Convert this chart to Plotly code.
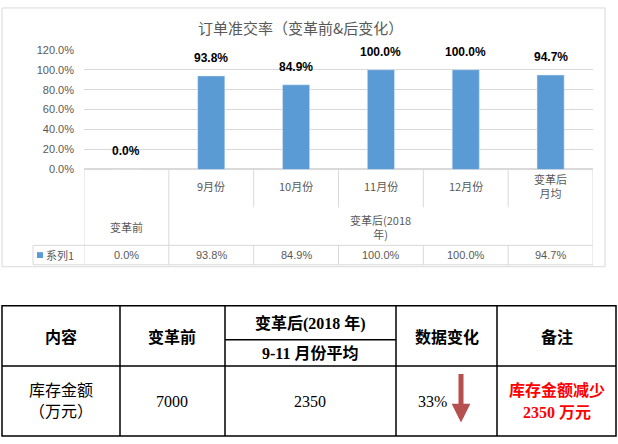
import plotly.graph_objects as go

W, H = 618, 444

# chart data
title = "订单准交率（变革前&后变化）"
categories = ["变革前", "9月份", "10月份", "11月份", "12月份", "变革后<br>月均"]
values = [0.0, 0.938, 0.849, 1.0, 1.0, 0.947]
groups = ["变革前", "变革后(2018<br>年)"]
series_name = "系列1"

# table data
tbl_head = ["内容", "变革前", "变革后(2018 年)", "9-11 月份平均", "数据变化", "备注"]
tbl_item = ["库存金额", "（万元）"]
before = 7000
after = 2350
change = "33%"
note = ["库存金额减少", "2350 万元"]

BLUE = "#5b9bd5"
GRID = "#d9d9d9"
GREY = "#595959"
CJK = "Noto Sans CJK SC"
SERIF = "Liberation Serif, Noto Sans CJK SC"


def fx(p):
    return p / W


def fy(p):
    return 1 - p / H


def txt(x, y, text, font, xref="paper", yref="paper", **kw):
    d = dict(x=x, y=y, xref=xref, yref=yref, text=text, showarrow=False,
             xanchor="center", yanchor="middle", font=font)
    d.update(kw)
    return d


fig = go.Figure()
fig.add_trace(go.Bar(x=list(range(len(values))), y=values, width=0.32,
                     marker_color=BLUE, name=series_name, hoverinfo="skip"))

ann = []
shapes = []

# labels above the bars
lab_font = dict(family="Liberation Sans", size=12, color="#000")
for i, v in enumerate(values):
    ann.append(txt(i, v, "<b>%.1f%%</b>" % (v * 100), lab_font, xref="x", yref="y",
                   yanchor="bottom", yshift=9))

ann.append(txt(fx(300), fy(22), title, dict(family=CJK, size=15, color=GREY)))

# category row
cat_font = dict(family=CJK, size=11, color=GREY)
for i, c in enumerate(categories):
    if i > 0:
        ann.append(txt(i, fy(185), c, cat_font, xref="x"))
ann.append(txt(0, fy(227), groups[0], cat_font, xref="x"))
ann.append(txt(3, fy(227), groups[1], cat_font, xref="x"))

# data table row
for i, v in enumerate(values):
    ann.append(txt(i, fy(256), "%.1f%%" % (v * 100),
                   dict(family="Liberation Sans", size=11, color=GREY), xref="x"))
ann.append(txt(fx(44), fy(256), series_name, cat_font, xanchor="left"))
shapes.append(dict(type="rect", xref="paper", yref="paper", x0=fx(37), x1=fx(43),
                   y0=fy(259), y1=fy(253), fillcolor=BLUE, line_width=0))

# category area lines
gl = dict(color=GRID, width=1)
for xv in [-0.5, 0.5, 5.5]:
    shapes.append(dict(type="line", xref="x", yref="paper", x0=xv, x1=xv,
                       y0=fy(168), y1=fy(266), line=gl))
for xv in [1.5, 2.5, 3.5, 4.5]:
    shapes.append(dict(type="line", xref="x", yref="paper", x0=xv, x1=xv,
                       y0=fy(168), y1=fy(207), line=gl))
    shapes.append(dict(type="line", xref="x", yref="paper", x0=xv, x1=xv,
                       y0=fy(246), y1=fy(266), line=gl))
for yv in [246, 266]:
    shapes.append(dict(type="line", xref="paper", yref="paper", x0=fx(33), x1=fx(593),
                       y0=fy(yv), y1=fy(yv), line=gl))
shapes.append(dict(type="line", xref="paper", yref="paper", x0=fx(33), x1=fx(33),
                   y0=fy(246), y1=fy(266), line=gl))
shapes.append(dict(type="rect", xref="paper", yref="paper", x0=fx(2), x1=fx(605),
                   y0=fy(268), y1=fy(2), line=gl))

# bottom table
bl = dict(color="#000", width=1.5)
shapes.append(dict(type="rect", xref="paper", yref="paper", x0=fx(2), x1=fx(616),
                   y0=fy(442), y1=fy(308), line=bl))
for xv in [120, 225, 396, 497]:
    shapes.append(dict(type="line", xref="paper", yref="paper", x0=fx(xv), x1=fx(xv),
                       y0=fy(442), y1=fy(308), line=bl))
shapes.append(dict(type="line", xref="paper", yref="paper", x0=fx(2), x1=fx(616),
                   y0=fy(370), y1=fy(370), line=bl))
shapes.append(dict(type="line", xref="paper", yref="paper", x0=fx(225), x1=fx(396),
                   y0=fy(343), y1=fy(343), line=bl))

hf = dict(family=SERIF, size=16, color="#000")
pos = [(61, 340), (172, 340), (310, 326), (310, 357), (447, 340), (557, 340)]
for t, (px, py) in zip(tbl_head, pos):
    ann.append(txt(fx(px), fy(py), "<b>%s</b>" % t, hf))
nf = dict(family=SERIF, size=16, color="#000")
ann.append(txt(fx(61), fy(395), tbl_item[0], nf))
ann.append(txt(fx(61), fy(417), tbl_item[1], nf))
ann.append(txt(fx(172), fy(406), str(before), nf))
ann.append(txt(fx(310), fy(406), str(after), nf))
ann.append(txt(fx(433), fy(406), change, nf))
rf = dict(family=SERIF, size=16, color="#ff0000")
ann.append(txt(fx(557), fy(395), "<b>%s</b>" % note[0], rf))
ann.append(txt(fx(557), fy(418), "<b>%s</b>" % note[1], rf))
# down arrow
ann.append(dict(x=fx(461), y=fy(428), xref="paper", yref="paper", ax=0, ay=-50,
                text="", showarrow=True, arrowhead=2, arrowsize=0.75, arrowwidth=5,
                arrowcolor="#b5504e"))

fig.update_layout(
    width=W, height=H, margin=dict(l=0, r=0, t=0, b=0),
    paper_bgcolor="white", plot_bgcolor="white", showlegend=False,
    annotations=ann, shapes=shapes,
    xaxis=dict(domain=[fx(84), fx(593)], range=[-0.5, 5.5], showticklabels=False,
               showgrid=False, zeroline=False, fixedrange=True),
    yaxis=dict(domain=[fy(168), fy(45)], range=[0, 1.2], dtick=0.2, tickformat=".1%",
               showgrid=True, gridcolor=GRID, zeroline=True, zerolinecolor=GRID,
               ticklabelstandoff=9,
               tickfont=dict(family="Liberation Sans", size=11, color=GREY)),
)

fig.write_html("out.html", config={"displayModeBar": False},
               post_script="document.body.style.margin='0';")
